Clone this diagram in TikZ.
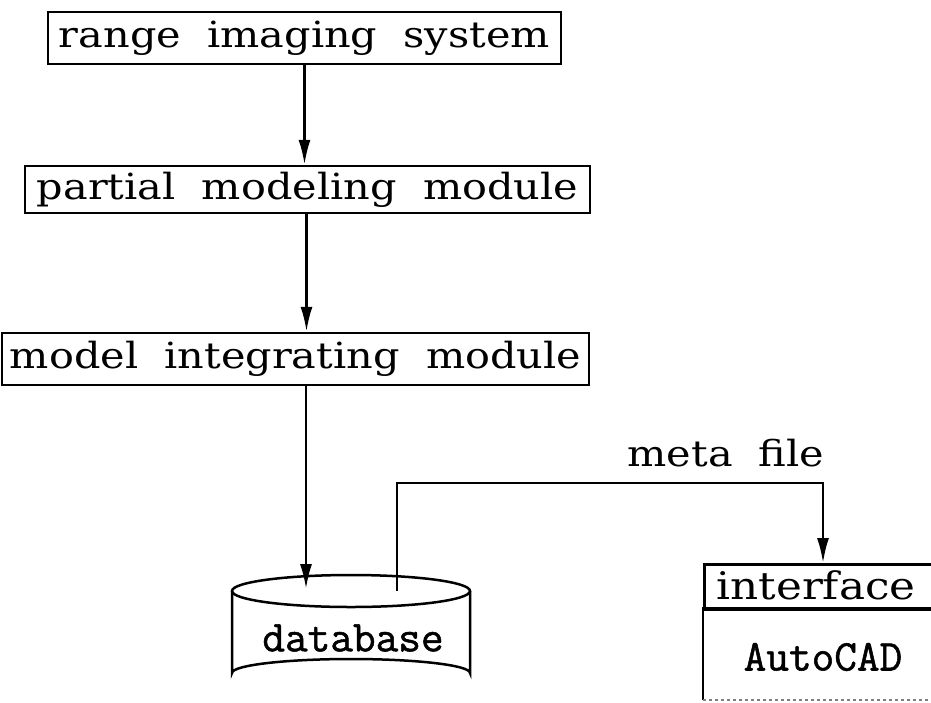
\documentclass[tikz,border=0pt]{standalone}
\usepackage{fontspec}
\setmainfont{DejaVu Serif}[FakeStretch=1.15,WordSpace=2.0]
\newfontfamily\monof{Latin Modern Mono}[FakeBold=1.2]
\usetikzlibrary{arrows.meta,calc}
\tikzset{
  box/.style={draw, line width=2.5pt, inner sep=0pt, font=\fontsize{36}{40}\selectfont},
  arr/.style={line width=2.5pt, -{Latex[length=25pt,width=12pt]}},
  ln/.style={line width=2.5pt},
  lbl/.style={inner sep=0pt, font=\fontsize{36}{40}\selectfont},
  mono/.style={inner sep=0pt, font=\monof\fontsize{44}{46}\selectfont},
}
\begin{document}
\begin{tikzpicture}[x=1pt,y=-1pt]
\clip (0,0) rectangle (931,702);
\fill[white] (0,0) rectangle (931,702);
\node[box, minimum width=513pt, minimum height=52pt] (n1) at (304.5,38) {range imaging system};
\node[box, minimum width=565pt, minimum height=47pt] (n2) at (307.5,189.5) {partial modeling module};
\node[box, minimum width=587pt, minimum height=52pt] (n3) at (295.5,359) {model integrating module};
\draw[arr] (n1.south) -- (n1.south |- n2.north);
\draw[arr] ($(n2.south)+(-1,0)$) -- ($(n2.south |- n3.north)+(-1,0)$);
% database cylinder
\draw[ln, fill=white] (232,591) -- (232,673) arc[start angle=180, end angle=360, x radius=119, y radius=14] -- (470,591);
\draw[ln] (351,591) ellipse[x radius=119, y radius=16];
\node[mono] (db) at (353,638) {database};
\coordinate (dbin) at (306,589);
\coordinate (dbout) at (397,591);
\draw[arr] ($(n3.south)+(10.5,0)$) -- (dbin);
% meta file
\coordinate (mfc) at (823,483);
\node[lbl] (mf) at (726,453) {meta file};
% interface / AutoCAD
\node[box, anchor=north west, minimum width=240pt, minimum height=45pt] (if) at (703,563) {};
\node[lbl, font=\fontsize{38}{40}\selectfont] (iftxt) at (816,585) {interface};
\node[inner sep=0pt, anchor=north west, minimum width=240pt, minimum height=92pt] (acad) at (703,608) {};
\draw[ln] (acad.south west) -- (acad.north west) -- (acad.north east);
\draw[line width=2pt, dashed, gray] (acad.south west) -- (acad.south east);
\node[mono] (acadtxt) at (823,657) {AutoCAD};
\draw[arr] (dbout) |- (mfc) -- (mfc |- if.north);
\end{tikzpicture}
\end{document}
